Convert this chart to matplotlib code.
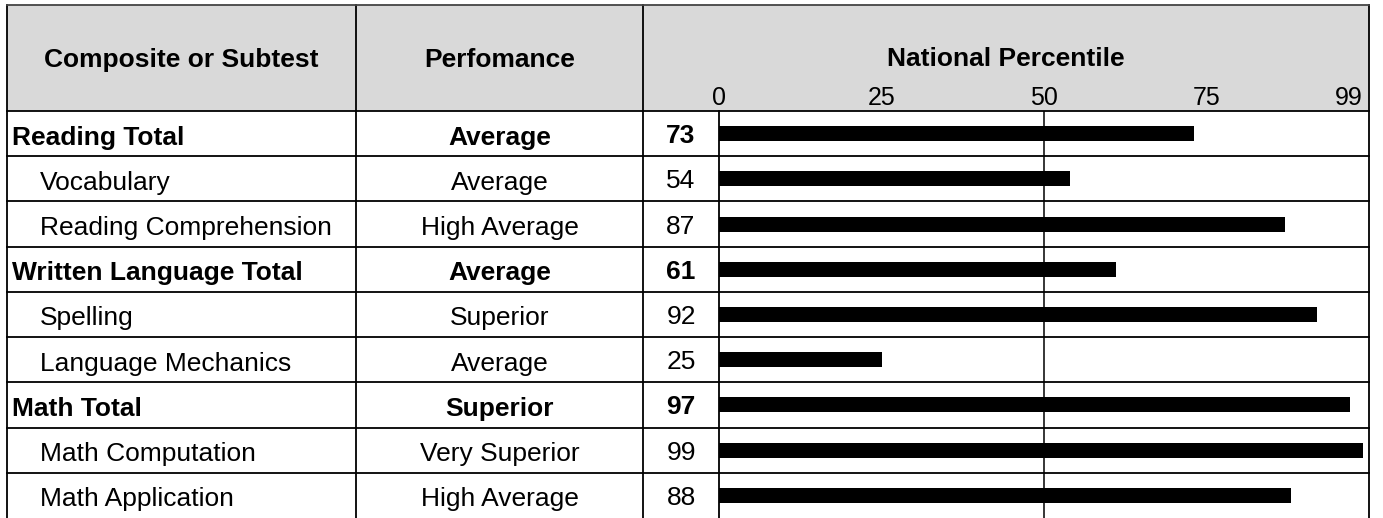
import matplotlib
matplotlib.use('Agg')
import matplotlib.pyplot as plt
from matplotlib.patches import Rectangle

plt.rcParams['font.family'] = ['Liberation Sans', 'DejaVu Sans']

# data
subtests = ['Reading Total', 'Vocabulary', 'Reading Comprehension',
            'Written Language Total', 'Spelling', 'Language Mechanics',
            'Math Total', 'Math Computation', 'Math Application']
performance = ['Average', 'Average', 'High Average',
               'Average', 'Superior', 'Average',
               'Superior', 'Very Superior', 'High Average']
percentiles = [73, 54, 87, 61, 92, 25, 97, 99, 88]
is_total = [True, False, False, True, False, False, True, False, False]
tick_vals = [0, 25, 50, 75, 99]
headers = ['Composite or Subtest', 'Perfomance', 'National Percentile']

# layout in pixels
W, H = 1383, 518
LEFT, C1, C2, AX0, RIGHT = 7, 356, 643, 719, 1369
TOP, HEAD_BOT = 5, 111
ROW_H = (H - HEAD_BOT) / len(subtests)
FS = 19
HEAD_GRAY = '#d9d9d9'

fig = plt.figure(figsize=(W / 100, H / 100), dpi=100)
bg = fig.add_axes([0, 0, 1, 1])
bg.set_xlim(0, W)
bg.set_ylim(H, 0)
bg.axis('off')

# header
bg.add_patch(Rectangle((LEFT, TOP), RIGHT - LEFT, HEAD_BOT - TOP,
                       facecolor=HEAD_GRAY, edgecolor='none', zorder=0))
bg.text((LEFT + C1) / 2, 67, headers[0], ha='center', va='baseline',
        fontsize=FS, fontweight='bold')
bg.text((C1 + C2) / 2, 67, headers[1], ha='center', va='baseline',
        fontsize=FS, fontweight='bold')
bg.text((C2 + RIGHT) / 2, 66, headers[2], ha='center', va='baseline',
        fontsize=FS, fontweight='bold')

# grid lines of the table
lw = 1.3
for x in (LEFT, C1, C2, RIGHT):
    bg.plot([x, x], [TOP, H + 2], color='black', lw=lw, zorder=2)
bg.plot([AX0, AX0], [HEAD_BOT, H + 2], color='black', lw=lw, zorder=2)
bg.plot([LEFT, RIGHT], [TOP, TOP], color='#444444', lw=lw, zorder=2)
bg.plot([LEFT, RIGHT], [HEAD_BOT, HEAD_BOT], color='black', lw=lw, zorder=2)
for k in range(1, len(subtests)):
    yy = HEAD_BOT + k * ROW_H
    bg.plot([LEFT, RIGHT], [yy, yy], color='black', lw=lw, zorder=2)

# row texts
for i, (name, perf, val, tot) in enumerate(zip(subtests, performance,
                                                percentiles, is_total)):
    yc = HEAD_BOT + (i + 0.5) * ROW_H
    fw = 'bold' if tot else 'normal'
    bg.text(LEFT + 5 if tot else LEFT + 33, yc + 11, name, ha='left',
            va='baseline', fontsize=FS, fontweight=fw)
    bg.text((C1 + C2) / 2, yc + 11, perf, ha='center', va='baseline',
            fontsize=FS, fontweight=fw)
    bg.text((C2 + AX0) / 2, yc + 9.5, str(val), ha='center', va='baseline',
            fontsize=FS, fontweight=fw)

# bar axes
ax = fig.add_axes([AX0 / W, 0, (RIGHT - AX0) / W, (H - HEAD_BOT) / H])
ax.patch.set_alpha(0)
ax.set_xlim(0, 100)
ax.set_ylim(len(subtests) - 0.5, -0.5)
ax.barh(range(len(percentiles)), percentiles, height=0.33, color='black',
        zorder=3)
ax.axvline(50, color='black', lw=1.1, zorder=1)
for s in ax.spines.values():
    s.set_visible(False)
ax.set_yticks([])
ax.xaxis.tick_top()
ax.set_xticks(tick_vals)
ax.set_xticklabels([str(t) for t in tick_vals], fontsize=FS - 1)
ax.tick_params(axis='x', length=0, pad=0.5)
ax.get_xticklabels()[-1].set_ha('right')

fig.savefig('out.png', dpi=100)
